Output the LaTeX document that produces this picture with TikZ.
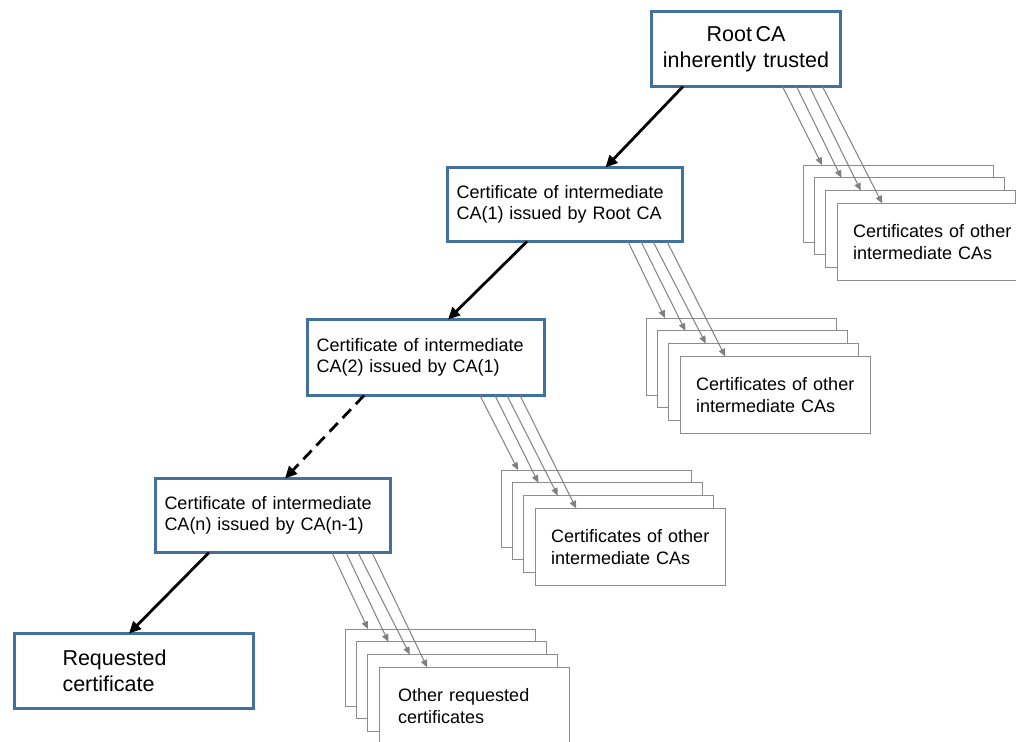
\documentclass[tikz,border=0pt]{standalone}
\usepackage{fontspec}
\setmainfont{Liberation Sans}
\usetikzlibrary{arrows.meta,calc}
\definecolor{boxblue}{HTML}{41719C}
\definecolor{stackgray}{HTML}{8C8C8C}
\definecolor{arrgray}{HTML}{808080}
\begin{document}
\begin{tikzpicture}[x=1pt,y=-1pt,
  bluebox/.style={draw=boxblue,line width=3pt,fill=white,anchor=north west,inner ysep=0pt,outer sep=0pt},
  interbox/.style={bluebox,align=left,inner xsep=9pt,font=\fontsize{18}{21.5}\selectfont},
  bigbox/.style={bluebox,font=\fontsize{21.5}{26.5}\selectfont},
  stackbox/.style={draw=stackgray,line width=1pt,fill=white,anchor=north west,minimum width=190pt,minimum height=77pt,outer sep=0pt,inner xsep=16pt,inner ysep=0pt,text width=158pt,align=left,font=\fontsize{18}{21.5}\selectfont},
  chain/.style={line width=2.8pt,-{Triangle[length=12pt,width=11pt]}},
  issue/.style={draw=arrgray,line width=1pt,-{Triangle[length=7.5pt,width=6.5pt]}}
]
\useasboundingbox (0,0) rectangle (1016,741);
\clip (0,0) rectangle (1016,741);

% stacks of other certificates
\node[stackbox] (r1) at (803,165) {};
\node[stackbox] (r2) at (814.4,177.8) {};
\node[stackbox] (r3) at (825.8,190.6) {};
\node[stackbox] (r4) at (837.2,203.4) {\mbox{Certificates of other}\\intermediate CAs};

\node[stackbox] (a1) at (646,318) {};
\node[stackbox] (a2) at (657.4,330.8) {};
\node[stackbox] (a3) at (668.8,343.6) {};
\node[stackbox] (a4) at (680.2,356.4) {\mbox{Certificates of other}\\intermediate CAs};

\node[stackbox] (b1) at (501,470) {};
\node[stackbox] (b2) at (512.4,482.8) {};
\node[stackbox] (b3) at (523.8,495.6) {};
\node[stackbox] (b4) at (535.2,508.4) {\mbox{Certificates of other}\\intermediate CAs};

\node[stackbox] (c1) at (345,629) {};
\node[stackbox] (c2) at (356.4,641.8) {};
\node[stackbox] (c3) at (367.8,654.6) {};
\node[stackbox,inner xsep=19pt,text width=152pt] (c4) at (379.2,667.4) {Other requested\\certificates};

% blue chain boxes
\node[bigbox,align=center,inner xsep=9pt,text width=171pt,minimum width=189pt,minimum height=75pt] (root) at (651.5,11.5) {Root\,CA\\inherently trusted};
\node[interbox,text width=217pt,minimum width=235pt,minimum height=74pt] (ca1) at (447.5,167.5) {Certificate of intermediate\\CA(1) issued by Root CA};
\node[interbox,text width=219pt,minimum width=237pt,minimum height=76pt] (ca2) at (307.5,319.5) {Certificate of intermediate\\CA(2) issued by CA(1)};
\node[interbox,text width=217pt,minimum width=235pt,minimum height=74pt] (can) at (155.5,478.5) {Certificate of intermediate\\CA(n) issued by CA(n-1)};
\node[bigbox,align=left,inner xsep=48pt,text width=143pt,minimum width=239pt,minimum height=75pt] (req) at (14.5,633.5) {Requested\\certificate};

% grey issuing arrows
\draw[issue] ($(root.south east)+(-58,0)$) -- ($(r1.north west)+(19,0)$);
\draw[issue] ($(root.south east)+(-44,0)$) -- ($(r2.north west)+(27,0)$);
\draw[issue] ($(root.south east)+(-31,0)$) -- ($(r3.north west)+(35,0)$);
\draw[issue] ($(root.south east)+(-18,0)$) -- ($(r4.north west)+(45,0)$);

\draw[issue] ($(ca1.south east)+(-54.5,0)$) -- ($(a1.north west)+(19,0)$);
\draw[issue] ($(ca1.south east)+(-41.5,0)$) -- ($(a2.north west)+(28,0)$);
\draw[issue] ($(ca1.south east)+(-29.5,0)$) -- ($(a3.north west)+(37,0)$);
\draw[issue] ($(ca1.south east)+(-15.5,0)$) -- ($(a4.north west)+(45,0)$);

\draw[issue] ($(ca2.south east)+(-64.5,0)$) -- ($(b1.north west)+(17,0)$);
\draw[issue] ($(ca2.south east)+(-49.5,0)$) -- ($(b2.north west)+(26,0)$);
\draw[issue] ($(ca2.south east)+(-37.5,0)$) -- ($(b3.north west)+(34,0)$);
\draw[issue] ($(ca2.south east)+(-24.5,0)$) -- ($(b4.north west)+(41,0)$);

\draw[issue] ($(can.south east)+(-58.5,0)$) -- ($(c1.north west)+(23,0)$);
\draw[issue] ($(can.south east)+(-44.5,0)$) -- ($(c2.north west)+(32,0)$);
\draw[issue] ($(can.south east)+(-32.5,0)$) -- ($(c3.north west)+(42,0)$);
\draw[issue] ($(can.south east)+(-18.5,0)$) -- ($(c4.north west)+(48,0)$);

% black chain arrows
\draw[chain] ($(root.south west)+(31.5,0)$) -- ($(ca1.north west)+(158,0)$);
\draw[chain] ($(ca1.south west)+(79.5,0)$) -- ($(ca2.north west)+(140.5,0)$);
\draw[chain,dash pattern=on 12pt off 7pt] ($(ca2.south west)+(56.5,0)$) -- ($(can.north west)+(129.5,0)$);
\draw[chain] ($(can.south west)+(53.5,0)$) -- ($(req.north west)+(114.5,0)$);
\end{tikzpicture}
\end{document}
